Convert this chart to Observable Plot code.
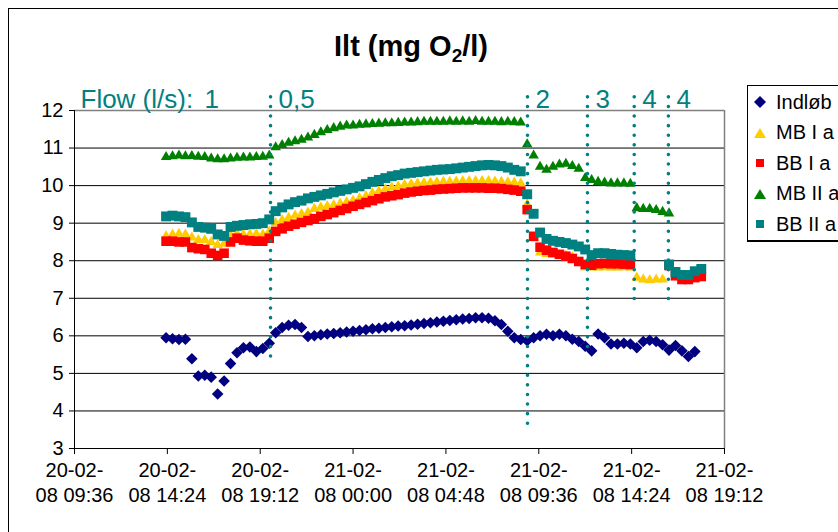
<!DOCTYPE html>
<html><head><meta charset="utf-8">
<script src="https://cdn.jsdelivr.net/npm/d3@7"></script>
<script src="https://cdn.jsdelivr.net/npm/@observablehq/plot@0.6"></script>
<style>
body{margin:0;background:#fff;overflow:hidden;}
#wrap{position:relative;width:838px;height:532px;overflow:hidden;font-family:"Liberation Sans",Arial,sans-serif;background:#fff;}
#frame{position:absolute;left:8px;top:8px;width:900px;height:600px;border:1px solid #000;}
#title{position:absolute;left:0;width:822px;top:32px;text-align:center;font-weight:bold;font-size:29px;line-height:29px;}
#title sub{font-size:19px;vertical-align:-6px;line-height:0;}
#chart{position:absolute;left:0;top:0;}
#legend{position:absolute;left:747px;top:85px;width:120px;height:154px;border:1px solid #000;border-bottom-width:2px;background:#fff;}
.item{position:absolute;left:0;height:30px;display:flex;align-items:center;font-size:20px;white-space:nowrap;}
.item svg{margin-left:5px;margin-right:9px;}
</style></head>
<body>
<div id="wrap">
  <div id="frame"></div>
  <div id="chart"></div>
  <div id="title">Ilt (mg O<sub>2</sub>/l)</div>
  <div id="legend"></div>
</div>
<script>
// ---- data ----
const seriesNames = ["Indløb", "MB I a", "BB I a", "MB II a", "BB II a"];
const seriesColors = ["#000080", "#FFCC00", "#FF0000", "#008000", "#008080"];
const firstSample = "20-02-08 14:20";   // logger start
const sampleMinutes = 20;               // logger interval

const indlob = [5.95,5.92,5.9,5.91,5.39,4.93,4.95,4.9,4.45,4.8,
  5.26,5.55,5.68,5.7,5.58,5.66,5.8,6.08,6.22,6.28,
  6.3,6.22,5.98,6.0,6.03,6.05,6.06,6.08,6.1,6.12,
  6.14,6.16,6.19,6.2,6.22,6.24,6.26,6.27,6.29,6.31,
  6.33,6.35,6.37,6.39,6.41,6.43,6.45,6.46,6.48,6.48,
  6.47,6.4,6.3,6.12,5.95,5.9,5.87,5.95,6.0,6.04,
  6.0,6.04,6.0,5.91,5.85,5.72,5.6,6.05,5.95,5.78,
  5.78,5.8,5.78,5.68,5.85,5.88,5.85,5.76,5.62,5.74,
  5.6,5.45,5.58,null];
const mbIa = [8.65,8.7,8.72,8.7,8.62,8.55,8.55,8.5,8.42,8.45,
  8.68,8.72,8.7,8.7,8.72,8.7,8.78,9.0,9.08,9.14,
  9.2,9.24,9.28,9.38,9.42,9.45,9.48,9.52,9.56,9.6,
  9.66,9.72,9.8,9.85,9.9,9.95,9.98,10.02,10.04,10.06,
  10.07,10.08,10.09,10.1,10.1,10.11,10.12,10.12,10.12,10.12,
  10.12,10.11,10.1,10.09,10.08,10.06,9.5,8.6,8.22,8.18,
  8.16,8.15,8.14,8.1,7.95,7.83,7.82,7.82,7.83,7.82,
  7.82,7.83,7.82,7.55,7.5,7.48,7.5,7.5,null,null,
  null,null,null,null];
const bbIa = [8.52,8.52,8.5,8.5,8.35,8.32,8.3,8.2,8.14,8.2,
  8.5,8.6,8.55,8.53,8.52,8.52,8.6,8.78,8.85,8.92,
  8.97,9.02,9.07,9.12,9.18,9.23,9.28,9.34,9.39,9.45,
  9.5,9.55,9.6,9.65,9.7,9.73,9.76,9.8,9.83,9.85,
  9.87,9.88,9.9,9.91,9.92,9.93,9.94,9.94,9.94,9.94,
  9.93,9.93,9.92,9.9,9.88,9.85,9.36,8.65,8.36,8.28,
  8.22,8.17,8.12,8.06,7.98,7.9,7.88,7.92,7.93,7.92,
  7.92,7.91,7.9,null,null,null,null,null,7.87,7.6,
  7.5,7.5,7.55,7.58];
const mbIIa = [10.76,10.78,10.8,10.78,10.79,10.77,10.76,10.72,10.7,10.7,
  10.72,10.74,10.75,10.75,10.76,10.77,10.8,11.02,11.08,11.14,
  11.18,11.22,11.28,11.35,11.42,11.48,11.53,11.57,11.6,11.6,
  11.62,11.63,11.64,11.65,11.66,11.66,11.67,11.68,11.68,11.69,
  11.7,11.7,11.7,11.7,11.71,11.7,11.71,11.7,11.72,11.7,
  11.7,11.7,11.69,11.7,11.69,11.68,11.1,10.8,10.5,10.42,
  10.5,10.56,10.58,10.52,10.45,10.2,10.15,10.1,10.08,10.06,
  10.06,10.06,10.05,9.4,9.38,9.38,9.35,9.3,9.26,null,
  null,null,null,null];
const bbIIa = [9.18,9.2,9.18,9.16,9.02,8.9,8.88,8.85,8.7,8.66,
  8.9,8.93,8.95,8.97,8.98,9.0,9.1,9.32,9.42,9.5,
  9.56,9.6,9.66,9.7,9.74,9.78,9.82,9.86,9.9,9.94,
  9.98,10.04,10.1,10.15,10.2,10.25,10.28,10.32,10.34,10.36,
  10.38,10.4,10.42,10.43,10.44,10.46,10.48,10.5,10.52,10.54,
  10.55,10.54,10.52,10.48,10.42,10.38,9.77,9.25,8.75,8.58,
  8.53,8.5,8.47,8.43,8.38,8.3,8.15,8.2,8.2,8.18,
  8.16,8.15,8.14,null,null,null,null,null,7.9,7.7,
  7.62,7.62,7.72,7.78];

const flowLabels = ["0,5", "2", "3", "4", "4"];
const flowTimes = ["20-02-08 19:44", "21-02-08 09:01", "21-02-08 12:07", "21-02-08 14:32", "21-02-08 16:18"];
const flowLineEnds = [5.42, 3.53, 5.69, 6.86, 6.91];
const flowStartLabel = "1";

const xTickLabels = ["20-02-08 09:36","20-02-08 14:24","20-02-08 19:12","21-02-08 00:00",
  "21-02-08 04:48","21-02-08 09:36","21-02-08 14:24","21-02-08 19:12"];
const yTicks = [3,4,5,6,7,8,9,10,11,12];

// ---- helpers ----
function parseT(s){
  return new Date(Date.UTC(2000 + +s.slice(6,8), +s.slice(3,5) - 1, +s.slice(0,2), +s.slice(9,11), +s.slice(12,14)));
}
const t0 = parseT(firstSample).getTime();
const allSeries = [indlob, mbIa, bbIa, mbIIa, bbIIa];
const symbols = ["diamond2", "triangle2", "square", "triangle2", "square"];
const radii = [5.2, 5.0, 5.4, 5.0, 5.6];
const xTicks = xTickLabels.map(parseT);
const xMin = xTicks[0], xMax = xTicks[xTicks.length - 1];

const dotMarks = allSeries.map((vals, k) => {
  const rows = vals.map((v, i) => ({t: new Date(t0 + i * sampleMinutes * 60000), v}))
                   .filter(d => d.v != null);
  return Plot.dot(rows, {x: "t", y: "v", symbol: () => symbols[k], r: radii[k], fill: seriesColors[k], stroke: "none"});
});

const flowData = flowLabels.map((lab, i) => ({t: parseT(flowTimes[i]), lab, end: flowLineEnds[i]}));

const chart = Plot.plot({
  width: 838, height: 532,
  marginLeft: 74, marginRight: 114, marginTop: 110, marginBottom: 84,
  style: {fontFamily: "Liberation Sans, Arial, sans-serif", fontSize: "20px", color: "#000", background: "transparent", overflow: "visible"},
  x: {type: "utc", domain: [xMin, xMax]},
  y: {domain: [3, 12]},
  symbol: {type: "identity"},
  marks: [
    Plot.ruleY(yTicks.filter(v => v > 3 && v < 12), {stroke: "#000", strokeWidth: 1}),
    Plot.ruleY([12], {stroke: "#808080", strokeWidth: 1.5}),
    Plot.ruleX([xMax], {stroke: "#808080", strokeWidth: 1.5}),
    Plot.ruleX([xMin], {stroke: "#000"}),
    Plot.ruleY([3], {stroke: "#000"}),
    Plot.axisY({ticks: yTicks, tickSize: 5, tickPadding: 6, fontSize: 20, label: null, tickFormat: d => String(d)}),
    Plot.axisX({ticks: xTicks, tickSize: 6, tickPadding: 5, fontSize: 20, lineHeight: 1.25, label: null,
      tickFormat: d => { const i = xTicks.findIndex(x => +x === +d); const s = xTickLabels[i]; return s.slice(0,6) + "\n" + s.slice(6); }}),
    ...dotMarks,
    Plot.ruleX(flowData, {x: "t", y1: 12.35, y2: "end", stroke: "#008080", strokeWidth: 3.6, strokeDasharray: "0,9.6", strokeLinecap: "round"}),
    Plot.text(flowData, {x: "t", text: "lab", frameAnchor: "top", lineAnchor: "bottom", textAnchor: "start", dx: 8, dy: -3, fill: "#008080", fontSize: 26}),
    Plot.text(["Flow (l/s):"], {frameAnchor: "top-left", lineAnchor: "bottom", textAnchor: "start", dx: 6, dy: -3, fill: "#008080", fontSize: 26}),
    Plot.text([flowStartLabel], {frameAnchor: "top-left", lineAnchor: "bottom", textAnchor: "start", dx: 130, dy: -3, fill: "#008080", fontSize: 26})
  ]
});
document.getElementById("chart").appendChild(chart);

// ---- legend ----
const legend = document.getElementById("legend");
const legendPaths = {
  "diamond2": '<path d="M7,1 L13,7 L7,13 L1,7 Z"/>',
  "triangle2": '<path d="M7,2 L13,12 L1,12 Z"/>',
  "square": '<rect x="3" y="3" width="8" height="8"/>'
};
seriesNames.forEach((name, k) => {
  const div = document.createElement("div");
  div.className = "item";
  div.style.top = (1 + k * 30.5) + "px";
  div.innerHTML = `<svg width="14" height="14" fill="${seriesColors[k]}">${legendPaths[symbols[k]]}</svg><span>${name}</span>`;
  legend.appendChild(div);
});
</script>
</body></html>
